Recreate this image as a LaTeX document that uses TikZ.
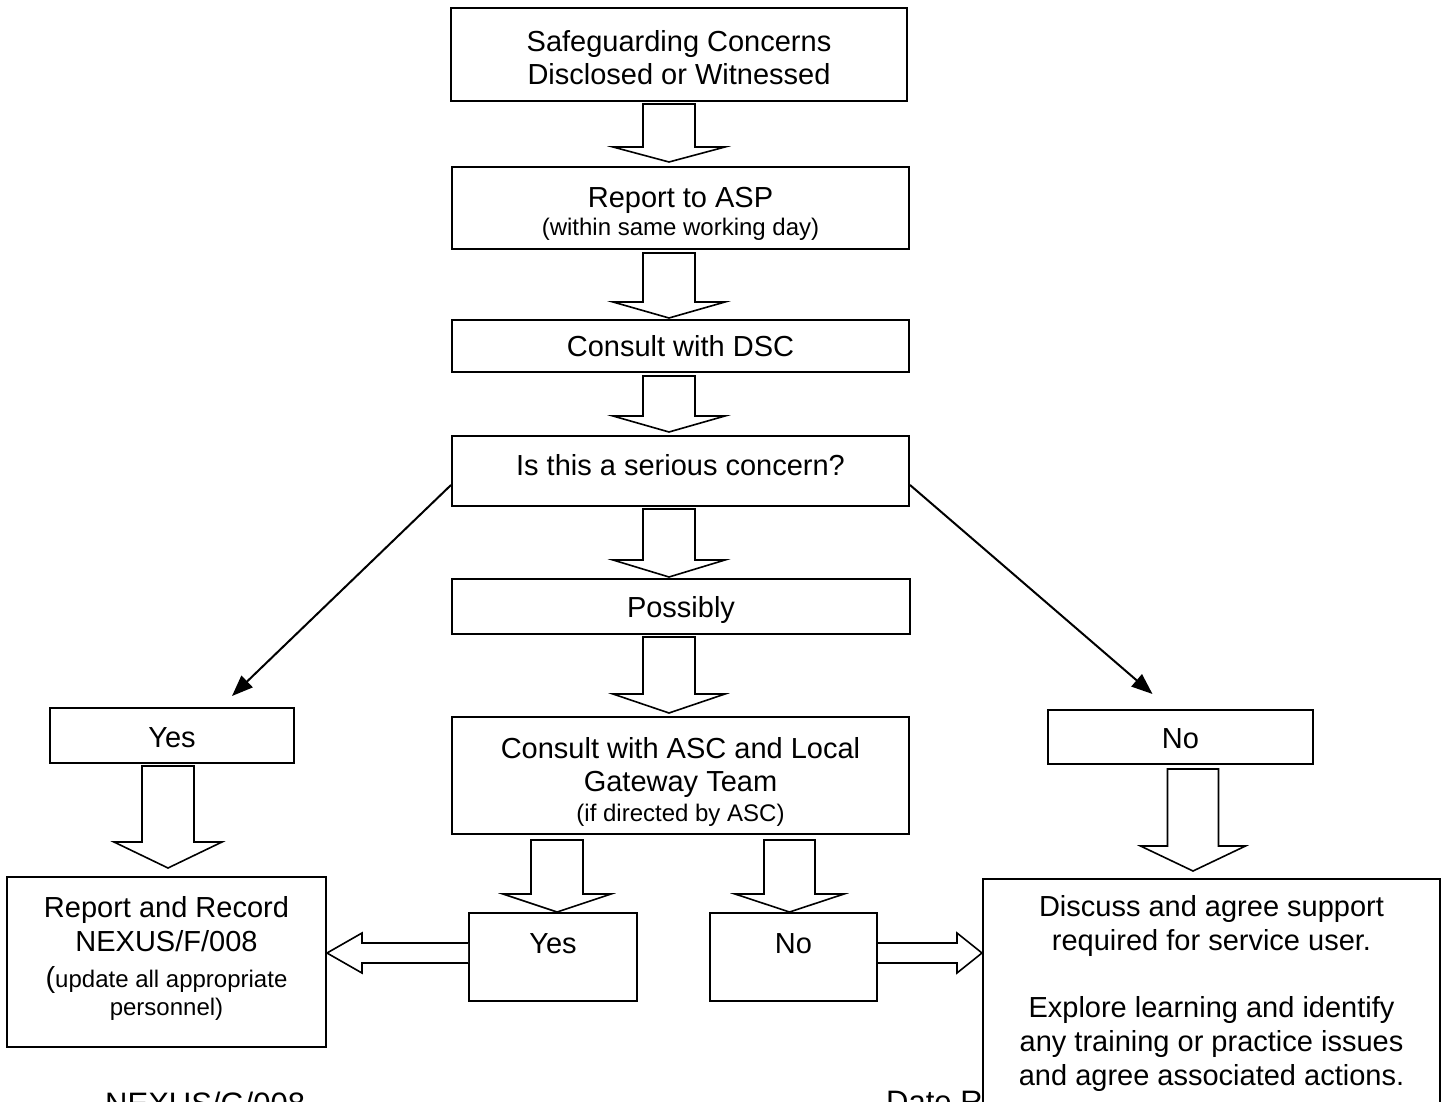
\documentclass[tikz,border=0pt]{standalone}
\usepackage{fontspec}
\setmainfont{Liberation Sans}
\usetikzlibrary{arrows.meta}
\newcommand\smalltxt{\fontsize{24}{26}\selectfont}
\newcommand\bdown[6]{\draw[blk] (#1-#5,#2) -- (#1+#5,#2) -- (#1+#5,#3) -- (#1+#6,#3) -- (#1,#4) -- (#1-#6,#3) -- (#1-#5,#3) -- cycle;}
\begin{document}
\begin{tikzpicture}[x=1pt,y=-1pt,
  box/.style={draw, line width=2pt, fill=white, inner sep=0pt, align=center,
              font=\fontsize{29}{33}\selectfont},
  blk/.style={draw, line width=1.6pt, fill=white, line join=miter},
  diag/.style={line width=2pt, -{Triangle[length=21pt,width=16pt]}},
  foot/.style={font=\fontsize{31}{35}\selectfont, inner sep=0pt, anchor=base west}]
\useasboundingbox (0,0) rectangle (1445,1102);
\clip (0,0) rectangle (1445,1102);

% footer texts (partly hidden by the last box)
\node[foot] (ft1) at (105,1114) {NEXUS/G/008};
\node[foot] (ft2) at (886,1112) {Date R};

% main column
\node[box, minimum width=456pt, minimum height=93pt, text height=61pt, text depth=0pt] (b1) at (679,54.5)
  {Safeguarding Concerns\\Disclosed or Witnessed};
\node[box, minimum width=457pt, minimum height=82pt, text height=59pt, text depth=5pt] (b2) at (680.5,208)
  {Report to ASP\\[-5pt]{\smalltxt (within same working day)}};
\node[box, minimum width=457pt, minimum height=52pt] (b3) at (680.5,346)
  {Consult with DSC};
\node[box, minimum width=457pt, minimum height=70pt, text height=21pt, text depth=12pt] (b4) at (680.5,471)
  {Is this a serious concern?};
\node[box, minimum width=458pt, minimum height=55pt, text height=28pt, text depth=6pt] (b5) at (681,606.5)
  {Possibly};
\node[box, minimum width=457pt, minimum height=117pt, text height=96pt, text depth=5pt] (b6) at (680.5,775.5)
  {Consult with ASC and Local\\Gateway Team\\[-3pt]{\smalltxt (if directed by ASC)}};

% side boxes
\node[box, minimum width=244pt, minimum height=55pt, text height=24pt, text depth=0pt] (yesL) at (172,735.5) {Yes};
\node[box, minimum width=265pt, minimum height=54pt, text height=23pt, text depth=0pt] (noR) at (1180.5,737) {No};

% bottom row
\node[box, minimum width=319pt, minimum height=170pt, text height=111pt, text depth=5pt] (rep) at (166.5,962)
  {Report and Record\\[1pt]NEXUS/F/008\\[3pt]({\smalltxt update all appropriate}\\[-5pt]{\smalltxt personnel)}};
\node[box, minimum width=168pt, minimum height=88pt, text height=21pt, text depth=29pt] (yesC) at (553,957) {Yes};
\node[box, minimum width=167pt, minimum height=88pt, text height=21pt, text depth=29pt] (noC) at (793.5,957) {No};
\node[box, minimum width=457pt, minimum height=228pt, anchor=north west,
      font=\fontsize{29}{34}\selectfont] (disc) at (982,878)
  {Discuss and agree support\\required for service user.\\[33pt]Explore learning and identify\\any training or practice issues\\and agree associated actions.};

% block arrows down
\bdown{669}{104}{147}{162}{26}{56}
\bdown{669}{253}{302}{318}{26}{56}
\bdown{669}{376}{416}{432}{26}{56}
\bdown{669}{509}{560}{577}{26}{56}
\bdown{669}{637}{694}{713}{26}{56}
\bdown{168}{766}{842}{868}{26}{54}
\bdown{1193}{769}{846}{871}{25.5}{52.5}
\bdown{557}{840}{894}{912}{26}{54}
\bdown{789.5}{840}{894}{912}{25.5}{54.5}

% block arrows sideways
\draw[blk] (yesC.west |- 0,943) -- (362,943) -- (362,933) -- (rep.east |- 0,953) -- (362,973) -- (362,963) -- (yesC.west |- 0,963);
\draw[blk] (noC.east |- 0,943) -- (957,943) -- (957,933) -- (disc.west |- 0,953) -- (957,973) -- (957,963) -- (noC.east |- 0,963);

% decision arrows
\draw[diag] ([yshift=-14pt]b4.west) -- ([xshift=60pt,yshift=11pt]yesL.north);
\draw[diag] ([yshift=-14pt]b4.east) -- ([xshift=-28pt,yshift=15pt]noR.north);
\end{tikzpicture}
\end{document}
